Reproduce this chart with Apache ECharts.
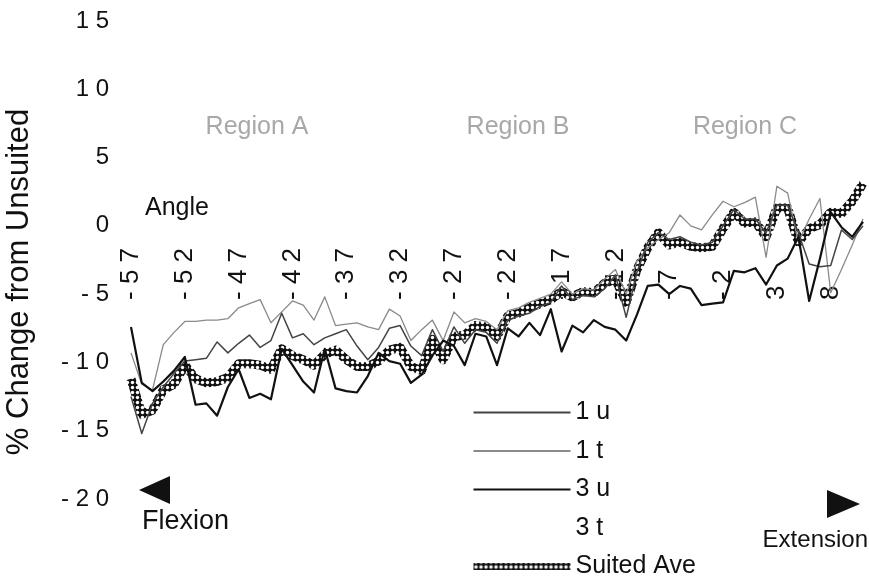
<!DOCTYPE html>
<html>
<head>
<meta charset="utf-8">
<script src="https://cdn.jsdelivr.net/npm/echarts@6/dist/echarts.min.js"></script>
<style>
  html, body { margin: 0; padding: 0; background: #fff; }
  #chart { width: 869px; height: 577px; }
</style>
</head>
<body>
<div id="chart"></div>
<script>
// Joint angle in degrees (flexion negative, extension positive)
const angles = [
  -57, -56, -55, -54, -53, -52, -51, -50, -49, -48,
  -47, -46, -45, -44, -43, -42, -41, -40, -39, -38,
  -37, -36, -35, -34, -33, -32, -31, -30, -29, -28,
  -27, -26, -25, -24, -23, -22, -21, -20, -19, -18,
  -17, -16, -15, -14, -13, -12, -11, -10, -9, -8,
  -7, -6, -5, -4, -3, -2, -1, 0, 1, 2,
  3, 4, 5, 6, 7, 8, 9, 10, 11
];

// % change from unsuited, one value per degree
const subj1u = [
  -12.5, -15.2, -13.0, -11.8, -10.8, -9.9, -9.8, -9.7, -8.5, -9.3,
  -8.6, -8.0, -8.9, -8.4, -6.4, -8.2, -7.9, -8.7, -8.2, -7.9,
  -7.6, -8.8, -9.8, -8.9, -7.5, -7.3, -8.8, -9.5, -7.6, -9.2,
  -7.4, -8.6, -7.6, -7.8, -8.6, -6.9, -6.6, -6.4, -5.9, -5.6,
  -4.4, -5.4, -5.1, -5.2, -4.6, -3.6, -6.7, -3.4, -1.2, -0.5,
  -1.0, -0.8, -1.2, -1.4, -1.2, 0.0, 1.2, 0.5, 0.5, -0.5,
  1.5, 1.5, -0.5, -2.8, -3.0, -2.9, -0.3, -1.0, 0.0
];
const subj1t = [
  -9.3, -11.6, -12.0, -8.7, -7.8, -7.0, -7.0, -6.9, -6.9, -6.8,
  -6.0, -5.7, -5.4, -7.1, -6.3, -5.5, -5.8, -6.9, -5.2, -7.3,
  -7.2, -7.1, -7.4, -7.6, -6.1, -6.6, -8.4, -7.6, -6.9, -8.4,
  -6.3, -7.1, -6.8, -7.0, -7.6, -6.2, -6.0, -5.6, -5.3, -5.0,
  -4.1, -5.0, -4.6, -4.7, -3.9, -3.2, -5.0, -2.6, -1.6, -1.0,
  -0.5, 0.8, 0.0, -0.3, 0.8, 1.8, 1.4, 1.7, 2.1, -2.3,
  2.9, 2.4, -1.2, 0.5, 2.0, -4.9, -3.2, -1.4, 0.5
];
const subj3u = [
  -7.4, -11.5, -12.1, -11.4, -10.6, -9.6, -13.1, -13.0, -13.9, -11.8,
  -10.5, -12.6, -12.3, -12.7, -9.0, -10.2, -11.4, -12.2, -9.0, -11.9,
  -12.1, -12.2, -11.0, -9.3, -9.9, -10.1, -11.5, -10.9, -9.5, -8.4,
  -8.8, -10.2, -7.9, -8.1, -10.2, -7.5, -8.1, -7.1, -8.0, -6.1,
  -9.2, -7.3, -7.8, -6.9, -7.4, -7.6, -8.4, -6.5, -4.4, -4.3,
  -5.0, -4.4, -4.6, -5.8, -5.7, -5.6, -3.3, -3.4, -3.1, -4.3,
  -2.9, -2.4, -0.8, -5.5, -2.4, 1.0, -0.1, -0.8, 0.3
];
const subj3t = [];
const suitedAve = [
  -11.2, -13.8, -13.5, -12.0, -11.6, -10.2, -11.2, -11.5, -11.4, -11.1,
  -10.1, -10.1, -10.2, -10.5, -9.0, -9.5, -9.8, -10.2, -9.4, -9.1,
  -9.8, -10.3, -10.3, -9.9, -9.1, -8.9, -10.3, -10.6, -8.3, -9.8,
  -8.1, -8.0, -7.3, -7.4, -8.1, -6.6, -6.4, -6.0, -5.7, -5.4,
  -4.8, -5.2, -4.8, -4.9, -4.2, -3.9, -5.6, -3.2, -1.6, -0.5,
  -1.4, -1.2, -1.5, -1.6, -1.5, -0.2, 1.0, 0.2, 0.3, -0.8,
  1.3, 1.3, -1.2, -0.2, 0.1, 1.0, 0.9, 1.8, 3.1
];

const seriesNames = ['1 u', '1 t', '3 u', '3 t', 'Suited Ave'];
const yTickValues = [15, 10, 5, 0, -5, -10, -15, -20];
const regionLabels = ['Region A', 'Region B', 'Region C'];

const FONT = '"Liberation Sans", Arial, Helvetica, sans-serif';

// Spread digits apart the way the printed labels are set
const spaced = v => String(v).split('').join(' ');

// Black band with white rings, used to stroke the average curve
function ringPattern() {
  const c = document.createElement('canvas');
  c.width = 5; c.height = 5;
  const g = c.getContext('2d');
  g.fillStyle = '#111';
  g.fillRect(0, 0, 5, 5);
  g.fillStyle = '#fff';
  g.beginPath();
  g.arc(2.5, 2.5, 1.7, 0, Math.PI * 2);
  g.fill();
  return c;
}
const ringFill = { image: ringPattern(), repeat: 'repeat' };

const chart = echarts.init(document.getElementById('chart'), null, { renderer: 'canvas' });

function lineSeries(name, data, color, width, z) {
  return {
    name: name,
    type: 'line',
    data: data,
    symbol: 'none',
    showSymbol: false,
    smooth: false,
    z: z,
    itemStyle: { color: '#111' },
    lineStyle: { color: color, width: width, join: 'round' },
    emphasis: { disabled: true }
  };
}

chart.setOption({
  animation: false,
  backgroundColor: '#fff',
  grid: {
    left: 131, right: 6, top: 21, bottom: 78,
    containLabel: false,
    outerBoundsMode: 'none'
  },
  xAxis: {
    type: 'category',
    data: angles,
    boundaryGap: false,
    position: 'top',
    offset: -281,
    axisLine: { show: false },
    axisTick: { show: false },
    splitLine: { show: false },
    axisLabel: {
      rotate: 90,
      margin: 2,
      interval: (i) => i % 5 === 0,
      formatter: v => spaced(v),
      fontFamily: FONT,
      fontSize: 26,
      color: '#111'
    }
  },
  yAxis: {
    type: 'value',
    min: -20, max: 15, interval: 5,
    axisLine: { show: false },
    axisTick: { show: false },
    splitLine: { show: false },
    axisLabel: {
      margin: 22,
      formatter: v => spaced(v),
      fontFamily: FONT,
      fontSize: 24,
      color: '#111',
      customValues: yTickValues
    },
    name: '% Change from Unsuited',
    nameLocation: 'middle',
    nameGap: 96,
    nameTextStyle: {
      fontFamily: FONT,
      fontSize: 31,
      color: '#111',
      padding: [0, 44, 0, 0]
    }
  },
  legend: {
    data: [
      { name: seriesNames[0] },
      { name: seriesNames[1] },
      { name: seriesNames[2] },
      { name: seriesNames[3] },
      { name: seriesNames[4], lineStyle: { width: 7 } }
    ],
    orient: 'vertical',
    left: 470,
    top: 400,
    height: 200,
    padding: 0,
    itemWidth: 97,
    itemHeight: 14,
    itemGap: 13.5,
    selectedMode: false,
    itemStyle: { opacity: 0 },
    textStyle: { fontFamily: FONT, fontSize: 25, color: '#111', lineHeight: 24 }
  },
  series: [
    lineSeries('Suited Ave', suitedAve, ringFill, 9, 2),
    lineSeries('1 t', subj1t, '#8a8a8a', 1.3, 3),
    lineSeries('1 u', subj1u, '#444', 1.5, 3),
    lineSeries('3 u', subj3u, '#111', 2.2, 4),
    lineSeries('3 t', subj3t, 'rgba(0,0,0,0)', 1.5, 3)
  ],
  graphic: [
    { type: 'text', x: 257, y: 127, style: { text: regionLabels[0], font: '25px ' + FONT, fill: '#a8a8a8', align: 'center', verticalAlign: 'middle' } },
    { type: 'text', x: 518, y: 127, style: { text: regionLabels[1], font: '25px ' + FONT, fill: '#a8a8a8', align: 'center', verticalAlign: 'middle' } },
    { type: 'text', x: 745, y: 127, style: { text: regionLabels[2], font: '25px ' + FONT, fill: '#a8a8a8', align: 'center', verticalAlign: 'middle' } },
    { type: 'text', x: 145, y: 208, style: { text: 'Angle', font: '25px ' + FONT, fill: '#111', align: 'left', verticalAlign: 'middle' } },
    { type: 'polygon', shape: { points: [[139, 490], [170, 476], [170, 504]] }, style: { fill: '#111' } },
    { type: 'text', x: 142, y: 522, style: { text: 'Flexion', font: '27px ' + FONT, fill: '#111', align: 'left', verticalAlign: 'middle' } },
    { type: 'polygon', shape: { points: [[827, 490], [860, 504], [827, 518]] }, style: { fill: '#111' } },
    { type: 'text', x: 868, y: 540, style: { text: 'Extension', font: '24px ' + FONT, fill: '#111', align: 'right', verticalAlign: 'middle' } }
  ]
});
</script>
</body>
</html>
